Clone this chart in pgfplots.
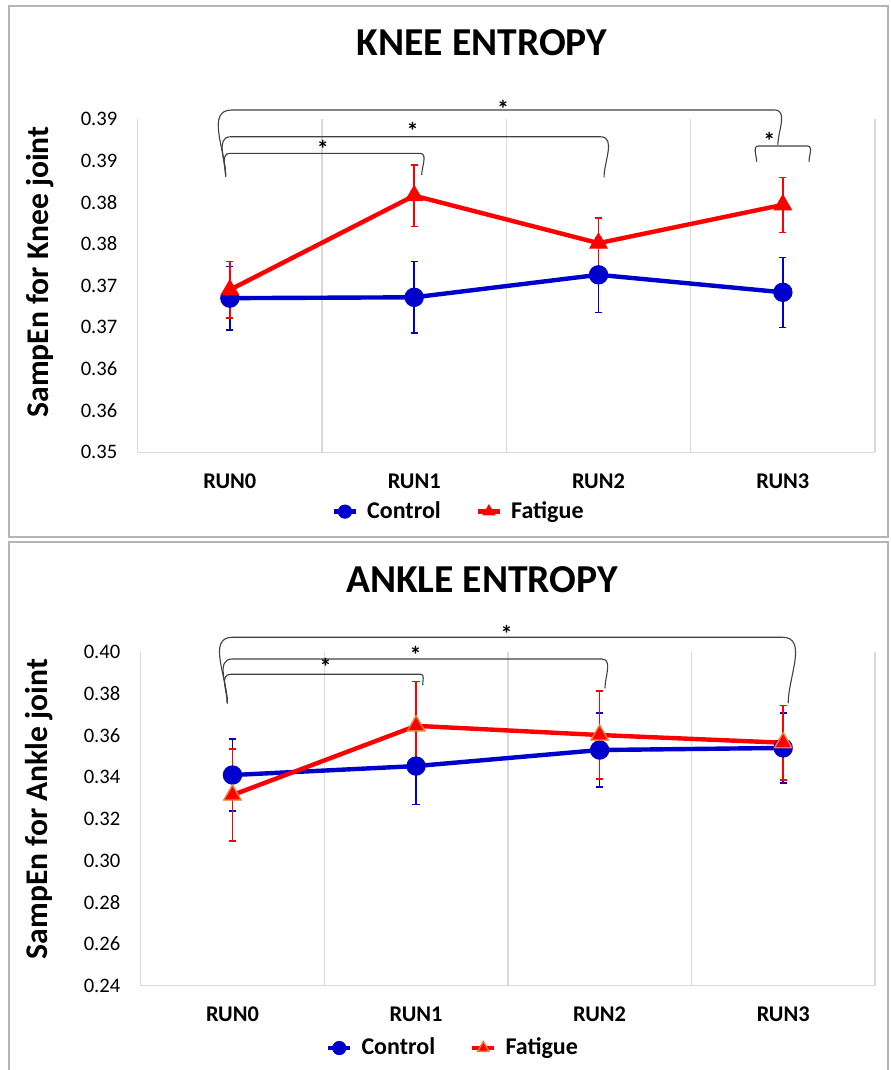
\documentclass[border=0pt]{standalone}
\usepackage{pgfplots}
\pgfplotsset{compat=1.18}
\usepackage{fontspec}
\setmainfont{Carlito}
\setsansfont{Carlito}
\definecolor{cblue}{RGB}{0,0,204}
\definecolor{cred}{RGB}{255,0,0}
\definecolor{corange}{RGB}{237,125,49}
\definecolor{gridc}{RGB}{217,217,217}
\definecolor{framec}{RGB}{180,180,180}
\definecolor{brk}{RGB}{64,64,64}

\tikzset{sigstar/.style={font=\bfseries\fontsize{12}{14}\selectfont, inner sep=0pt, yshift=-2.2pt}}

\pgfplotsset{
 panel/.style={
  scale only axis, clip=false,
  xmin=-0.5, xmax=3.5,
  xtick={0,1,2,3}, xticklabels={RUN0,RUN1,RUN2,RUN3},
  extra x ticks={0.5,1.5,2.5,3.5}, extra x tick labels={},
  extra x tick style={grid=major, major grid style={gridc, line width=0.7pt}},
  axis x line*=bottom, axis y line*=left,
  axis line style={gridc, line width=0.7pt, -},
  major tick length=0pt, minor tick length=0pt,
  yticklabel style={font=\fontsize{10.3}{12}\selectfont, anchor=east, inner sep=0pt, xshift=-10pt},
  xticklabel style={font=\bfseries\fontsize{11.2}{13}\selectfont, anchor=base, inner sep=0pt, yshift=-18pt},
  legend columns=2,
  legend cell align=left,
  legend image code/.code={\draw[mark repeat=2,mark phase=2,#1,mark size=3.3pt] plot coordinates {(0pt,0pt) (5.5pt,0pt) (11pt,0pt)};},
  legend style={draw=none, fill=none, font=\bfseries\fontsize{12}{14}\selectfont,
    /tikz/every odd column/.append style={column sep=3pt},
    /tikz/every even column/.append style={column sep=16pt},
    nodes={inner sep=1.5pt}},
 },
 ctrl/.style={cblue, line width=2.2pt, mark=*, mark size=4.6pt,
   mark options={solid, fill=cblue, draw=cblue, line width=0.5pt},
   error bars/y dir=both, error bars/y explicit,
   error bars/error mark=|,
   error bars/error bar style={line width=0.8pt, cblue},
   error bars/error mark options={mark size=1.8pt, line width=0.8pt, cblue}},
 fat/.style={cred, line width=2.2pt, mark=triangle*, mark size=5pt,
   mark options={solid, fill=cred, draw=cred, line width=0.5pt},
   error bars/y dir=both, error bars/y explicit,
   error bars/error mark=|,
   error bars/error bar style={line width=0.8pt, cred},
   error bars/error mark options={mark size=1.8pt, line width=0.8pt, cred}},
}

\begin{document}
\begin{tikzpicture}
\useasboundingbox (0,0) rectangle (445pt,535pt);
% panel frames
\draw[framec, line width=0.9pt] (4.5pt,266.5pt) rectangle (444pt,532pt);
\draw[framec, line width=0.9pt] (4.5pt,-3pt) rectangle (444pt,264pt);

% titles and axis labels
\node[font=\bfseries\fontsize{19.8}{22}\selectfont] at (241pt,513.5pt) {KNEE ENTROPY};
\node[font=\bfseries\fontsize{19.8}{22}\selectfont] at (241pt,245pt) {ANKLE ENTROPY};
\node[font=\bfseries\fontsize{15.8}{18}\selectfont, rotate=90] at (20pt,399pt) {SampEn for Knee joint};
\node[font=\bfseries\fontsize{15.8}{18}\selectfont, rotate=90] at (19.5pt,130.5pt) {SampEn for Ankle joint};

% ---------------- KNEE ----------------
\begin{axis}[panel,
  at={(68.85pt,308.85pt)}, anchor=south west,
  width=368.65pt, height=166.65pt,
  ymin=0.35, ymax=0.39,
  ytick={0.350,0.355,0.360,0.365,0.370,0.375,0.380,0.385,0.390},
  yticklabels={0.35,0.36,0.36,0.37,0.37,0.38,0.38,0.39,0.39},
  legend style={at={(0.436,-0.178)}, anchor=center},
]
\addplot[ctrl] coordinates {
 (0,0.3685) +- (0,0.0038)
 (1,0.3686) +- (0,0.0043)
 (2,0.3713) +- (0,0.0045)
 (3,0.3692) +- (0,0.0042)
};
\addlegendentry{Control}
\addplot[fat] coordinates {
 (0,0.3695) +- (0,0.0034)
 (1,0.3808) +- (0,0.0037)
 (2,0.3751) +- (0,0.0030)
 (3,0.3797) +- (0,0.0033)
};
\addlegendentry{Fatigue}
% significance brackets
\draw[brk, line width=0.55pt] (-0.0226,0.38307) to[out=90,in=180] (0.0,0.38588) -- (1.03,0.38588) to[out=0,in=90] (1.0407,0.38328);
\draw[brk, line width=0.55pt] (-0.0226,0.38307) to[out=90,in=180] (0.005,0.38787) -- (2.01,0.38787) to[out=0,in=90] (2.03,0.3830);
\draw[brk, line width=0.55pt] (-0.0226,0.38307) to[out=90,in=180] (0.01,0.39108) -- (2.955,0.39108) to[out=0,in=90] (2.973,0.38688);
\draw[brk, line width=0.55pt] (2.858,0.38487) to[out=90,in=180] (2.868,0.38676) -- (3.132,0.38676) to[out=0,in=90] (3.142,0.38487);
\node[sigstar] at (0.505,0.38688) {*};
\node[sigstar] at (0.992,0.38907) {*};
\node[sigstar] at (1.483,0.39176) {*};
\node[sigstar] at (2.927,0.38787) {*};
\end{axis}

% ---------------- ANKLE ----------------
\begin{axis}[panel,
  at={(70.35pt,42.15pt)}, anchor=south west,
  width=367.15pt, height=166.7pt,
  ymin=0.24, ymax=0.40,
  ytick={0.24,0.26,0.28,0.30,0.32,0.34,0.36,0.38,0.40},
  yticklabels={0.24,0.26,0.28,0.30,0.32,0.34,0.36,0.38,0.40},
  legend style={at={(0.426,-0.187)}, anchor=center},
]
\addplot[ctrl] coordinates {
 (0,0.3411) +- (0,0.0174)
 (1,0.3454) +- (0,0.0184)
 (2,0.3531) +- (0,0.0178)
 (3,0.3541) +- (0,0.0169)
};
\addlegendentry{Control}
\addplot[fat, mark options={solid, fill=cred, draw=corange, line width=0.7pt}] coordinates {
 (0,0.3315) +- (0,0.0221)
 (1,0.3647) +- (0,0.0213)
 (2,0.3603) +- (0,0.0210)
 (3,0.3566) +- (0,0.0178)
};
\addlegendentry{Fatigue}
\draw[brk, line width=0.55pt] (-0.028,0.3755) to[out=90,in=180] (-0.01,0.38946) -- (1.025,0.38946) to[out=0,in=90] (1.036,0.38432);
\draw[brk, line width=0.55pt] (-0.028,0.3755) to[out=90,in=180] (0.0,0.3968) -- (2.01,0.3968) to[out=0,in=90] (2.029,0.38274);
\draw[brk, line width=0.55pt] (-0.028,0.3755) to[out=90,in=180] (0.0,0.40722) -- (2.995,0.40722) to[out=0,in=90] (3.027,0.37554);
\node[sigstar] at (0.5076,0.39531) {*};
\node[sigstar] at (0.998,0.40064) {*};
\node[sigstar] at (1.493,0.41072) {*};
\end{axis}
\end{tikzpicture}
\end{document}
